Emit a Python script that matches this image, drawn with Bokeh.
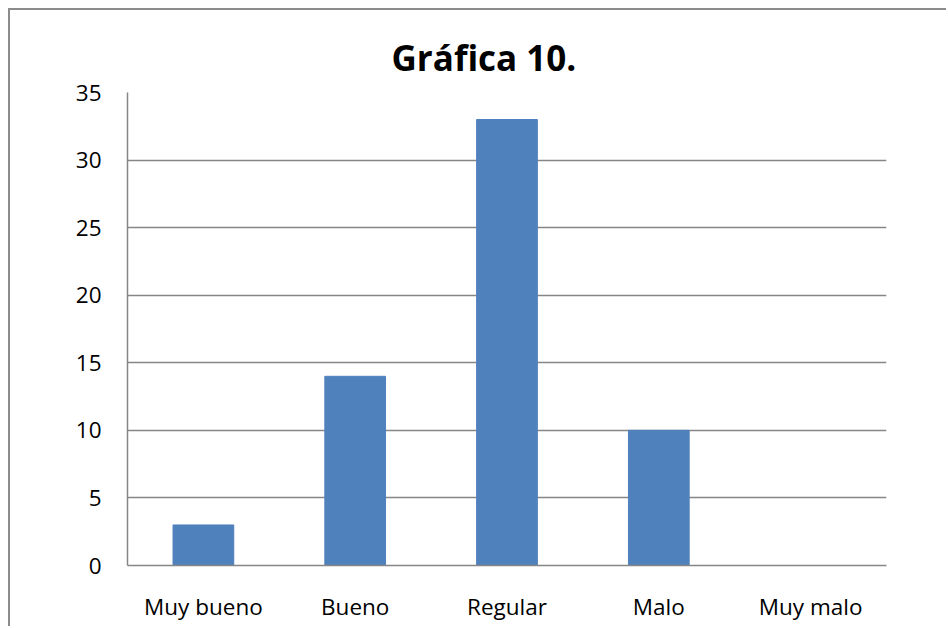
from bokeh.plotting import figure
from bokeh.embed import file_html
from bokeh.resources import INLINE
from bokeh.models import FixedTicker

categories = ["Muy bueno", "Bueno", "Regular", "Malo", "Muy malo"]
values = [3, 14, 33, 10, 0]
y_ticks = [0, 5, 10, 15, 20, 25, 30, 35]

FONT = "Open Sans"
GRAY = "#868686"

p = figure(x_range=categories, y_range=(0, 35), width=938, height=618,
           output_backend="svg", toolbar_location=None,
           min_border_left=117, min_border_right=62, min_border_top=82, min_border_bottom=63)
p.styles = {"margin-left": "8px", "margin-top": "8px",
            "border-left": "2px solid #8c8c8c", "border-top": "2px solid #8c8c8c"}

p.vbar(x=categories, top=values, width=0.4, color="#4F81BD")

p.title.text = "Gráfica 10."
p.title.text_font = FONT
p.title.text_font_size = "35px"
p.title.text_font_style = "bold"
p.title.text_color = "#000000"
p.title.align = "left"
p.title.offset = 264
p.title.standoff = 24

p.outline_line_color = None
p.xgrid.grid_line_color = None
p.ygrid.grid_line_color = GRAY
p.ygrid.grid_line_width = 1.5
p.yaxis.ticker = FixedTicker(ticks=y_ticks)

for ax in (p.xaxis[0], p.yaxis[0]):
    ax.axis_line_color = GRAY
    ax.axis_line_width = 1.5
    ax.major_tick_line_color = None
    ax.minor_tick_line_color = None
    ax.major_label_text_font = FONT
    ax.major_label_text_font_size = "22.5px"
    ax.major_label_text_color = "#000000"

p.yaxis.major_label_standoff = 20
p.xaxis.major_label_standoff = 19

open("out.html", "w").write(file_html(p, INLINE))
